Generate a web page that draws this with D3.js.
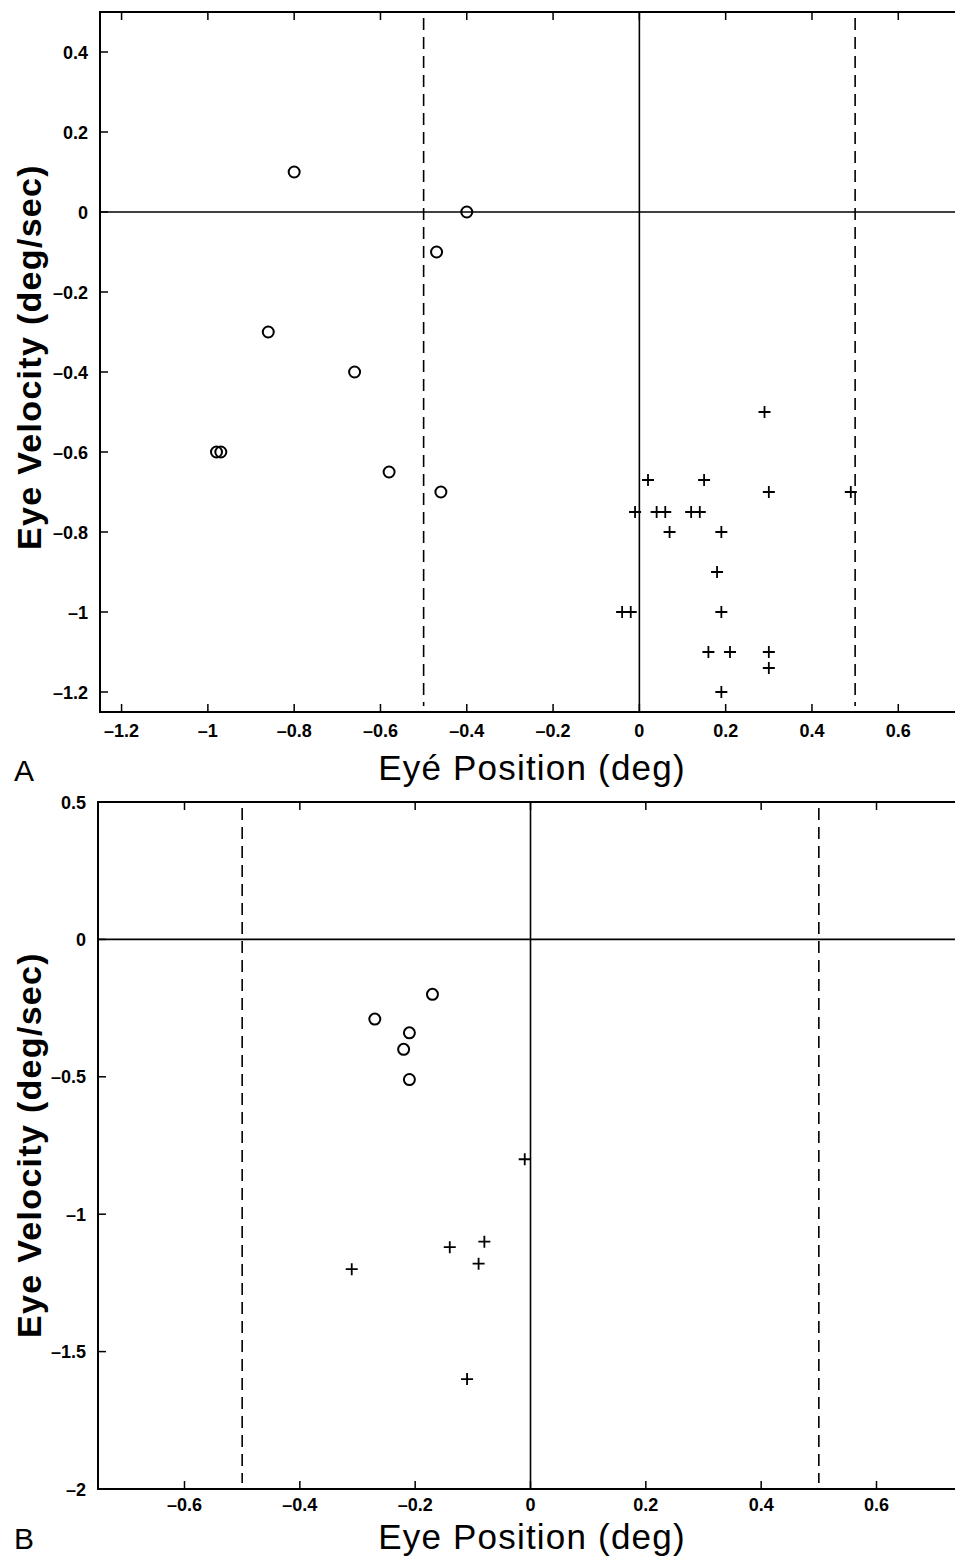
<!DOCTYPE html>
<html>
<head>
<meta charset="utf-8">
<script src="https://cdn.jsdelivr.net/npm/d3@7"></script>
<style>
  body { margin: 0; background: #fff; }
  svg { display: block; }
  .tick-label { font-family: "Liberation Sans", Arial, sans-serif; font-weight: bold; font-size: 18px; }
  .ylab { font-family: "Liberation Sans", Arial, sans-serif; font-weight: bold; font-size: 34px; letter-spacing: 1.3px; }
  .xlab { font-family: "Liberation Sans", Arial, sans-serif; font-size: 35px; letter-spacing: 1.2px; }
  .panel-letter { font-family: "Liberation Sans", Arial, sans-serif; font-size: 30px; }
</style>
</head>
<body>
<div class="viz-container"></div>
<script>
// panel A data
const aCircleX = [-0.8, -0.4, -0.47, -0.86, -0.66, -0.98, -0.97, -0.58, -0.46];
const aCircleY = [0.1, 0, -0.1, -0.3, -0.4, -0.6, -0.6, -0.65, -0.7];
const aPlusX = [0.29, 0.02, 0.15, 0.3, 0.49, -0.01, 0.04, 0.06, 0.12, 0.14, 0.07, 0.19, 0.18, -0.04, -0.02, 0.19, 0.16, 0.21, 0.3, 0.3, 0.19];
const aPlusY = [-0.5, -0.67, -0.67, -0.7, -0.7, -0.75, -0.75, -0.75, -0.75, -0.75, -0.8, -0.8, -0.9, -1, -1, -1, -1.1, -1.1, -1.1, -1.14, -1.2];
const aXTicks = [-1.2, -1, -0.8, -0.6, -0.4, -0.2, 0, 0.2, 0.4, 0.6];
const aYTicks = [0.4, 0.2, 0, -0.2, -0.4, -0.6, -0.8, -1, -1.2];

// panel B data
const bCircleX = [-0.17, -0.27, -0.21, -0.22, -0.21];
const bCircleY = [-0.2, -0.29, -0.34, -0.4, -0.51];
const bPlusX = [-0.01, -0.08, -0.14, -0.09, -0.31, -0.11];
const bPlusY = [-0.8, -1.1, -1.12, -1.18, -1.2, -1.6];
const bXTicks = [-0.6, -0.4, -0.2, 0, 0.2, 0.4, 0.6];
const bYTicks = [0.5, 0, -0.5, -1, -1.5, -2];

const limits = [-0.5, 0.5]; // dashed lines

let viz = d3.select(".viz-container")
  .append("svg")
    .attr("width", 955)
    .attr("height", 1557);

function fmt(v) {
  return (v < 0 ? "\u2013" : "") + String(Math.abs(Math.round(v * 100) / 100));
}

function drawPanel(p) {
  let x = d3.scaleLinear().domain(p.xDomain).range([p.left, p.right]);
  let y = d3.scaleLinear().domain(p.yDomain).range([p.bottom, p.top]);
  let g = viz.append("g");

  // zero lines
  g.append("line")
    .attr("x1", x(0)).attr("x2", x(0))
    .attr("y1", p.top).attr("y2", p.bottom)
    .attr("stroke", "#000").attr("stroke-width", 1.6);
  g.append("line")
    .attr("x1", p.left).attr("x2", p.right)
    .attr("y1", y(0)).attr("y2", y(0))
    .attr("stroke", "#000").attr("stroke-width", 1.6);

  // dashed limits
  g.selectAll(".lim").data(limits).enter()
    .append("line")
      .attr("x1", d => x(d)).attr("x2", d => x(d))
      .attr("y1", p.top + 6).attr("y2", p.bottom - 6)
      .attr("stroke", "#000").attr("stroke-width", 1.6)
      .attr("stroke-dasharray", "12,7");

  // frame
  g.append("path")
    .attr("d", `M${p.right},${p.top}H${p.left}V${p.bottom}H${p.right}`)
    .attr("fill", "none").attr("stroke", "#000").attr("stroke-width", 2);

  // ticks (inside, MATLAB style)
  g.selectAll(".xt").data(p.xTicks).enter()
    .append("path")
      .attr("d", d => `M${x(d)},${p.bottom}v-8M${x(d)},${p.top}v8`)
      .attr("stroke", "#000").attr("stroke-width", 1.5);
  g.selectAll(".yt").data(p.yTicks).enter()
    .append("path")
      .attr("d", d => `M${p.left},${y(d)}h8`)
      .attr("stroke", "#000").attr("stroke-width", 1.5);

  g.selectAll(".xl").data(p.xTicks).enter()
    .append("text")
      .attr("class", "tick-label")
      .attr("x", d => x(d))
      .attr("y", p.bottom + p.tickGap)
      .attr("text-anchor", "middle")
      .text(fmt);
  g.selectAll(".yl").data(p.yTicks).enter()
    .append("text")
      .attr("class", "tick-label")
      .attr("x", p.left - 12)
      .attr("y", d => y(d) + 6.5)
      .attr("text-anchor", "end")
      .text(fmt);

  // circles
  g.selectAll(".c").data(p.cx).enter()
    .append("circle")
      .attr("cx", d => x(d))
      .attr("cy", (d, i) => y(p.cy[i]))
      .attr("r", 5.5)
      .attr("fill", "none").attr("stroke", "#000").attr("stroke-width", 2);

  // plus marks
  g.selectAll(".p").data(p.px).enter()
    .append("path")
      .attr("d", (d, i) => {
        let cx = x(d), cy = y(p.py[i]);
        return `M${cx - 6},${cy}h12M${cx},${cy - 6}v12`;
      })
      .attr("stroke", "#000").attr("stroke-width", 1.8);

  // labels
  g.append("text")
    .attr("class", "xlab")
    .attr("x", 532)
    .attr("y", p.xLabelY)
    .attr("text-anchor", "middle")
    .text(p.xLabel);
  g.append("text")
    .attr("class", "ylab")
    .attr("transform", `translate(41,${p.yLabelMid}) rotate(-90)`)
    .attr("text-anchor", "middle")
    .text("Eye Velocity (deg/sec)");
  g.append("text")
    .attr("class", "panel-letter")
    .attr("x", 14)
    .attr("y", p.letterY)
    .text(p.letter);
}

drawPanel({
  xDomain: [-1.25, 0.75], yDomain: [-1.25, 0.5],
  left: 100, right: 963, top: 12, bottom: 712,
  xTicks: aXTicks, yTicks: aYTicks,
  cx: aCircleX, cy: aCircleY, px: aPlusX, py: aPlusY,
  xLabel: "Eyé Position (deg)", letter: "A",
  tickGap: 25, xLabelY: 780, letterY: 781, yLabelMid: 357
});

drawPanel({
  xDomain: [-0.75, 0.75], yDomain: [-2, 0.5],
  left: 98, right: 963, top: 802, bottom: 1489,
  xTicks: bXTicks, yTicks: bYTicks,
  cx: bCircleX, cy: bCircleY, px: bPlusX, py: bPlusY,
  xLabel: "Eye Position (deg)", letter: "B",
  tickGap: 22, xLabelY: 1549, letterY: 1549, yLabelMid: 1145
});
</script>
</body>
</html>
